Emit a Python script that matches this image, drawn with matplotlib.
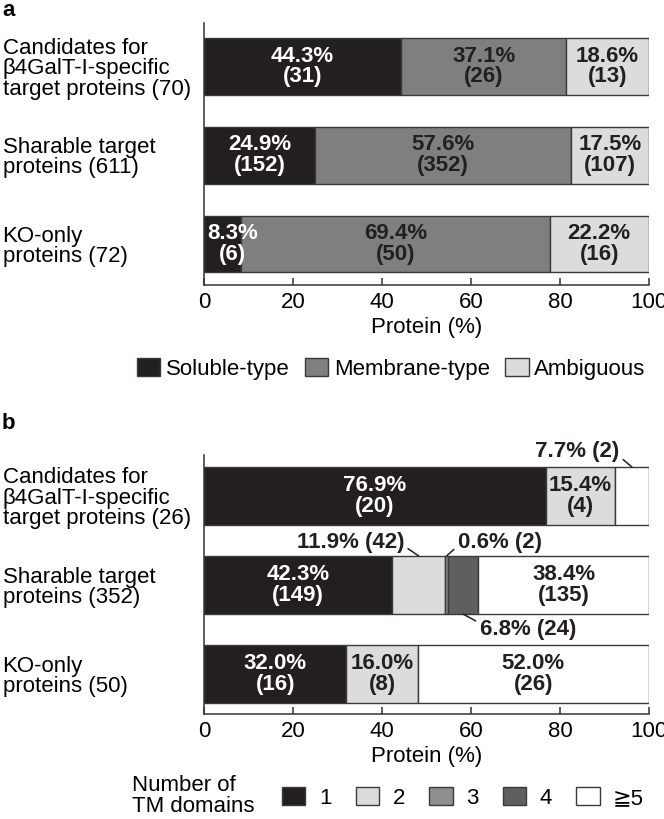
import matplotlib
matplotlib.use("Agg")
import matplotlib.pyplot as plt
from matplotlib.patches import Patch

plt.rcParams['font.family'] = ['Liberation Sans', 'DejaVu Sans']
plt.rcParams['font.size'] = 16

# ---------------- data ----------------
groups_a = ["Candidates for\n\u03b24GalT-I-specific\ntarget proteins (70)",
            "Sharable target\nproteins (611)",
            "KO-only\nproteins (72)"]
types_a = ["Soluble-type", "Membrane-type", "Ambiguous"]
pct_a = [[44.3, 37.1, 18.6],
         [24.9, 57.6, 17.5],
         [8.3, 69.4, 22.2]]
cnt_a = [[31, 26, 13],
         [152, 352, 107],
         [6, 50, 16]]

groups_b = ["Candidates for\n\u03b24GalT-I-specific\ntarget proteins (26)",
            "Sharable target\nproteins (352)",
            "KO-only\nproteins (50)"]
tm_classes = ["1", "2", "3", "4", "\u22675"]
pct_b = [[76.9, 15.4, 0.0, 0.0, 7.7],
         [42.3, 11.9, 0.6, 6.8, 38.4],
         [32.0, 16.0, 0.0, 0.0, 52.0]]
cnt_b = [[20, 4, 0, 0, 2],
         [149, 42, 2, 24, 135],
         [16, 8, 0, 0, 26]]

xticks = [0, 20, 40, 60, 80, 100]

# ---------------- style ----------------
col_a = ['#231f20', '#7f7f81', '#dcdcdd']
col_b = ['#231f20', '#dcdcdd', '#8e8e90', '#5f5f61', '#ffffff']
edge = '#3a3a3a'
W, H = 664, 819

fig = plt.figure(figsize=(W/100, H/100), dpi=100)

def px_axes(left, top, right, bottom):
    return fig.add_axes([left/W, 1-bottom/H, (right-left)/W, (bottom-top)/H])

axA = px_axes(204, 23, 649, 285)
axB = px_axes(204, 455, 649, 714)

def style_axes(ax, groups, ylim):
    ax.set_xlim(0, 100)
    ax.set_ylim(*ylim)
    ax.set_xticks(xticks)
    ax.set_xticklabels([str(t) for t in xticks])
    ax.set_yticks(range(len(groups)))
    ax.set_yticklabels(groups, linespacing=0.97)
    for lab in ax.get_yticklabels():
        lab.set_ha('left')
    ax.tick_params(axis='y', length=0, pad=145)
    ax.tick_params(axis='x', direction='in', length=5, width=1.1, color='#333333', pad=5)
    for s in ['top', 'right']:
        ax.spines[s].set_visible(False)
    for s in ['left', 'bottom']:
        ax.spines[s].set_color('#333333')
        ax.spines[s].set_linewidth(1.1)
    ax.set_xlabel("Protein (%)", labelpad=3)

# ---------------- panel a ----------------
for i in range(len(groups_a)):
    left = 0.0
    for j in range(len(types_a)):
        w = pct_a[i][j]
        axA.barh(i, w, left=left, height=0.64, color=col_a[j], edgecolor=edge, linewidth=1)
        xc = max(left + w/2, 6.4)
        axA.text(xc, i, f"{w:.1f}%\n({cnt_a[i][j]})", ha='center', va='center',
                 fontweight='bold', fontsize=16, linespacing=0.97,
                 color='white' if j == 0 else '#231f20')
        left += w
style_axes(axA, groups_a, (2.461, -0.489))

handles_a = [Patch(facecolor=c, edgecolor=edge, linewidth=1) for c in col_a]
fig.legend(handles_a, types_a, loc='center', bbox_to_anchor=(391/W, 1-369/H), ncol=3,
           frameon=False, handlelength=1.05, handleheight=0.85, handletextpad=0.25,
           columnspacing=0.7, fontsize=16, borderpad=0, borderaxespad=0)

# ---------------- panel b ----------------
# annotation offsets (points) for small segments: (row, class) -> (dx, dy, ha, relpos)
ann = {(0, 4): (-9, 11.5, 'right', (1.0, 0.25)),
       (1, 1): (-10.5, 9.5, 'right', (1.0, 0.35)),
       (1, 2): (8, 9.5, 'left', (0.0, 0.35)),
       (1, 3): (12, -11, 'left', (0.0, 0.8))}
bh = 0.652
for i in range(len(groups_b)):
    left = 0.0
    for j in range(len(tm_classes)):
        w = pct_b[i][j]
        if w <= 0:
            continue
        axB.barh(i, w, left=left, height=bh, color=col_b[j], edgecolor=edge, linewidth=1)
        label = f"{w:.1f}%\n({cnt_b[i][j]})"
        if w >= 12:
            axB.text(left + w/2, i, label, ha='center', va='center',
                     fontweight='bold', fontsize=16, linespacing=0.97,
                     color='white' if j == 0 else '#231f20')
        else:
            dx, dy, ha, rp = ann[(i, j)]
            ey = i - bh/2 if dy > 0 else i + bh/2
            axB.annotate(label.replace("\n", " "), xy=(left + w/2, ey),
                         xytext=(dx, dy), textcoords='offset points',
                         ha=ha, va='center', fontweight='bold', fontsize=16,
                         color='#231f20', annotation_clip=False,
                         arrowprops=dict(arrowstyle='-', color='#231f20', lw=1.1,
                                         shrinkA=1, shrinkB=0, relpos=rp))
        left += w
style_axes(axB, groups_b, (2.449, -0.461))

handles_b = [Patch(facecolor=c, edgecolor=edge, linewidth=1) for c in col_b]
fig.legend(handles_b, tm_classes, loc='center', bbox_to_anchor=(463/W, 1-798/H), ncol=5,
           frameon=False, handlelength=1.05, handleheight=0.85, handletextpad=0.6,
           columnspacing=1.1, fontsize=16, borderpad=0, borderaxespad=0)
fig.text(132/W, 1-796/H, "Number of\nTM domains", ha='left', va='center',
         fontsize=16, linespacing=0.97)

fig.text(2/W, 1-10/H, "a", fontweight='bold', fontsize=16, ha='left', va='center')
fig.text(2/W, 1-423/H, "b", fontweight='bold', fontsize=16, ha='left', va='center')

fig.savefig("out.png", dpi=100)
